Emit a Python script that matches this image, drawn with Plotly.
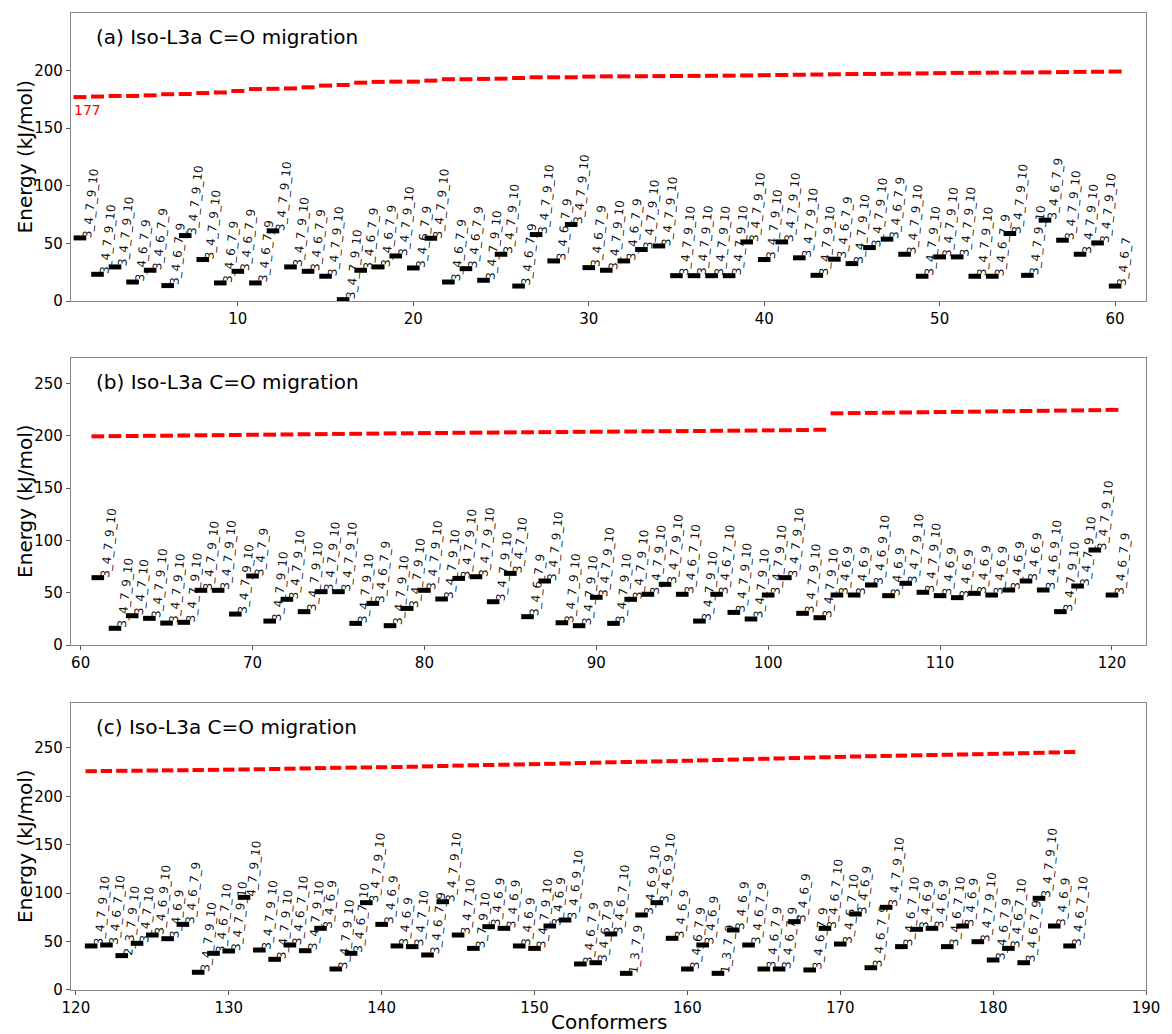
import math
import plotly.graph_objects as go

# ---------------- data ----------------
conf_a = list(range(1, 61))
energy_a = [54.8, 23.2, 29.6, 16.5, 26.7, 13.4, 56.8, 36.0, 15.7, 25.8,
            15.7, 60.9, 29.6, 25.8, 21.5, 1.2, 26.7, 29.6, 39.1, 28.7,
            54.5, 16.5, 28.1, 18.0, 40.6, 13.0, 57.7, 34.8, 66.4, 29.0,
            26.7, 34.8, 44.7, 47.8, 22.0, 22.0, 22.0, 22.0, 51.3, 36.0,
            51.3, 37.5, 22.3, 36.3, 32.5, 46.4, 53.7, 40.6, 21.5, 38.3,
            38.3, 21.5, 21.5, 58.6, 22.3, 70.2, 52.8, 40.6, 50.4, 13.0]
labels_a = ["3_4_7_9_10", "3_4_7_9_10", "3_4_7_9_10", "3_4_6_7_9", "3_4_6_7_9",
            "3_4_6_7_9", "3_4_7_9_10", "3_4_7_9_10", "3_4_6_7_9", "3_4_6_7_9",
            "3_4_6_7_9", "3_4_7_9_10", "3_4_7_9_10", "3_4_6_7_9", "3_4_7_9_10",
            "3_4_7_9_10", "3_4_6_7_9", "3_4_6_7_9", "3_4_7_9_10", "3_4_6_7_9",
            "3_4_7_9_10", "3_4_6_7_9", "3_4_6_7_9", "3_4_7_9_10", "3_4_7_9_10",
            "3_4_6_7_9", "3_4_7_9_10", "3_4_6_7_9", "3_4_7_9_10", "3_4_6_7_9",
            "3_4_7_9_10", "3_4_6_7_9", "3_4_7_9_10", "3_4_7_9_10", "3_4_7_9_10",
            "3_4_7_9_10", "3_4_7_9_10", "3_4_7_9_10", "3_4_7_9_10", "3_4_7_9_10",
            "3_4_7_9_10", "3_4_7_9_10", "3_4_7_9_10", "3_4_6_7_9", "3_4_7_9_10",
            "3_4_7_9_10", "3_4_6_7_9", "3_4_7_9_10", "3_4_7_9_10", "3_4_7_9_10",
            "3_4_7_9_10", "3_4_7_9_10", "3_4_6_7_9", "3_4_7_9_10", "3_4_7_9_10",
            "3_4_6_7_9", "3_4_7_9_10", "3_4_7_9_10", "3_4_7_9_10", "3_4_6_7"]
ts_a = [177.0, 177.5, 178.0, 178.0, 178.5, 179.5, 179.7, 180.5, 181.0, 182.3,
        184.0, 184.2, 184.5, 185.5, 187.0, 187.5, 189.5, 190.2, 190.4, 190.4,
        191.3, 192.5, 192.5, 192.8, 193.0, 193.6, 194.2, 194.2, 194.2, 194.8,
        195.0, 195.0, 195.1, 195.2, 195.3, 195.4, 195.5, 195.6, 195.8, 196.0,
        196.2, 196.4, 196.6, 196.8, 197.0, 197.1, 197.2, 197.4, 197.6, 197.8,
        198.0, 198.1, 198.2, 198.3, 198.4, 198.5, 198.7, 198.9, 199.0, 199.2]

conf_b = list(range(61, 121))
energy_b = [64.4, 16.0, 28.0, 25.5, 21.0, 21.7, 52.3, 52.3, 29.6, 66.0,
            22.9, 43.7, 31.9, 51.0, 51.0, 20.7, 39.8, 18.5, 35.0, 52.3,
            44.0, 63.7, 65.3, 41.4, 68.5, 27.1, 61.2, 21.3, 18.5, 45.6,
            20.7, 43.7, 48.5, 58.0, 48.5, 22.9, 48.5, 31.2, 24.9, 47.8,
            64.4, 30.3, 26.1, 47.8, 47.8, 57.4, 47.2, 59.0, 50.4, 47.2,
            45.3, 49.4, 47.8, 52.6, 61.2, 52.6, 31.9, 56.4, 90.8, 47.8]
labels_b = ["3_4_7_9_10", "3_4_7_9_10", "3_4_7_10", "3_4_7_9_10", "3_4_7_9_10",
            "3_4_7_9_10", "3_4_7_9_10", "3_4_7_9_10", "3_4_7_9_10", "3_4_7_9",
            "3_4_7_9_10", "3_4_7_9_10", "3_4_7_9_10", "3_4_7_9_10", "3_4_7_9_10",
            "3_4_7_9_10", "3_4_6_7_9", "3_4_7_9_10", "3_4_7_9_10", "3_4_7_9_10",
            "3_4_7_9_10", "3_4_7_9_10", "3_4_7_9_10", "3_4_7_9_10", "3_4_7_10",
            "3_4_6_7_9", "3_4_7_9_10", "3_4_7_9_10", "3_4_7_9_10", "3_4_7_9_10",
            "3_4_7_9_10", "3_4_7_9_10", "3_4_7_9_10", "3_4_7_9_10", "3_4_6_7_10",
            "3_4_7_9_10", "3_4_6_7_10", "3_4_7_9_10", "3_4_7_9_10", "3_4_7_9_10",
            "3_4_7_9_10", "3_4_7_9_10", "3_4_7_9_10", "3_4_6_9", "3_4_6_9",
            "3_4_6_9_10", "3_4_6_9", "3_4_7_9_10", "3_4_7_9_10", "3_4_6_9",
            "3_4_6_9", "3_4_6_9", "3_4_6_9", "3_4_6_9", "3_4_6_9",
            "3_4_6_9_10", "3_4_7_9_10", "3_4_7_9_10", "3_4_7_9_10", "3_4_6_7_9"]
ts_b = [199.5, 199.7, 199.8, 200.0, 200.1, 200.3, 200.5, 200.6, 200.8, 201.0,
        201.1, 201.3, 201.5, 201.6, 201.8, 201.9, 202.1, 202.3, 202.4, 202.6,
        202.7, 202.9, 203.0, 203.1, 203.3, 203.4, 203.5, 203.6, 203.8, 203.9,
        204.0, 204.1, 204.3, 204.4, 204.5, 204.6, 204.8, 204.9, 205.0, 205.2,
        205.3, 205.5, 205.8,
        221.5, 221.7, 221.9, 222.1, 222.3, 222.5, 222.7, 222.9, 223.1, 223.3,
        223.5, 223.7, 223.9, 224.1, 224.3, 224.5, 224.8]

conf_c = list(range(121, 186))
energy_c = [45.5, 46.5, 35.5, 48.2, 56.8, 53.0, 67.8, 18.3, 37.9, 40.3,
            95.7, 41.3, 31.7, 46.5, 40.6, 63.7, 21.7, 37.9, 90.2, 67.8,
            45.5, 44.8, 36.2, 91.2, 56.8, 43.0, 65.4, 63.7, 45.5, 43.0,
            66.1, 72.3, 26.9, 28.2, 57.9, 17.2, 77.5, 90.2, 53.4, 21.7,
            46.5, 17.2, 62.0, 46.5, 21.7, 21.7, 70.6, 20.7, 63.7, 47.5,
            78.5, 23.0, 85.4, 44.8, 62.7, 63.7, 44.8, 66.1, 49.9, 31.0,
            43.0, 28.2, 94.7, 66.1, 45.5]
labels_c = ["3_4_7_9_10", "3_4_6_7_10", "2_3_7_9_10", "3_4_7_10", "3_4_6_9_10",
            "3_4_6_9", "3_4_6_7_9", "3_4_7_9_10", "3_4_6_7_10", "3_4_7_9_10",
            "4_7_9_10", "3_4_7_9_10", "3_4_7_9_10", "3_4_6_7_10", "3_4_7_9_10",
            "3_4_6_9", "3_4_7_9_10", "3_4_6_7_10", "3_4_7_9_10", "3_4_6_9",
            "3_4_6_9", "3_4_7_10", "3_4_6_7_9", "3_4_7_9_10", "3_4_7_10",
            "3_7_9_10", "3_4_6_9", "3_4_6_9", "3_4_6_9", "3_4_7_9_10",
            "3_4_6_9", "3_4_6_9_10", "3_4_6_7_9", "3_4_6_7_9", "3_4_6_7_10",
            "1_3_7_9", "3_4_6_9_10", "3_4_6_9_10", "3_4_6_9", "3_4_6_7_9",
            "3_4_6_9", "1_3_7_9", "3_4_6_9", "3_4_6_7_9", "3_4_6_7_9",
            "3_4_6_7_9", "3_4_6_9", "3_4_6_7_9", "3_4_6_7_10", "3_4_6_7_10",
            "3_4_6_9", "3_4_6_7_9", "3_4_7_9_10", "3_4_6_7_10", "3_4_6_9",
            "3_4_6_9", "3_4_6_7_10", "3_4_6_9", "3_4_7_9_10", "3_4_6_7_9",
            "3_4_6_7_10", "3_4_6_7_9", "3_4_7_9_10", "3_4_6_9", "3_4_6_7_10"]
ts_c = [226.0, 226.2, 226.4, 226.5, 226.7, 226.9, 227.0, 227.2, 227.4, 227.6,
        227.8, 228.0, 228.3, 228.6, 228.9, 229.2, 229.5, 229.7, 229.9, 230.1,
        230.3, 230.6, 231.0, 231.4, 231.8, 232.1, 232.4, 232.7, 233.0, 233.3,
        233.6, 234.0, 234.4, 234.8, 235.2, 235.5, 235.8, 236.1, 236.4, 236.8,
        237.2, 237.6, 238.0, 238.4, 238.8, 239.2, 239.6, 240.0, 240.4, 240.8,
        241.2, 241.5, 241.8, 242.1, 242.4, 242.7, 243.0, 243.3, 243.6, 243.9,
        244.2, 244.6, 245.0, 245.4, 245.8]

panel_titles = ["(a) Iso-L3a C=O migration", "(b) Iso-L3a C=O migration",
                "(c) Iso-L3a C=O migration"]
ts_start_label = "177"
x_ranges = [[0.49, 61.76], [59.44, 121.98], [119.68, 190.0]]
y_ranges = [[0, 250], [0, 274.4], [0, 296.5]]
x_ticks = [[10, 20, 30, 40, 50, 60], [60, 70, 80, 90, 100, 110, 120],
           [120, 130, 140, 150, 160, 170, 180, 190]]
y_ticks = [[0, 50, 100, 150, 200], [0, 50, 100, 150, 200, 250],
           [0, 50, 100, 150, 200, 250]]

# ---------------- styling helpers ----------------
FONT = "DejaVu Sans"
LABEL_SIZE = 12
LABEL_ANGLE = 84  # degrees, counter-clockwise reading upward
COS_A = math.cos(math.radians(LABEL_ANGLE))
SIN_A = math.sin(math.radians(LABEL_ANGLE))


def text_width(s, size=LABEL_SIZE):
    w = 0.0
    for ch in s:
        w += 0.5 if ch == "_" else 0.636
    return w * size


def label_shift(s):
    """Offset (px) of the rotated label centre from its baseline start."""
    w = text_width(s)
    hc = 0.346 * LABEL_SIZE  # box centre above baseline
    dx = COS_A * w / 2 - SIN_A * hc
    dy = SIN_A * w / 2 + COS_A * hc
    # baseline start sits just right of the bar, level with its centre
    return 11 + dx, 0 + dy


fig = go.Figure()

panels = [(conf_a, energy_a, labels_a, ts_a),
          (conf_b, energy_b, labels_b, ts_b),
          (conf_c, energy_c, labels_c, ts_c)]
domains = [[0.7052, 1.0], [0.3531, 0.6469], [0.0, 0.2938]]

annotations = []
for k, (cx, ey, lab, ts) in enumerate(panels):
    xa = "x" if k == 0 else f"x{k+1}"
    ya = "y" if k == 0 else f"y{k+1}"
    # transition-state energies: one short flat dash per conformer
    sx, sy = [], []
    for c, v in zip(cx, ts):
        sx += [c - 0.37, c + 0.37, None]
        sy += [v, v, None]
    fig.add_trace(go.Scatter(x=sx, y=sy, mode="lines", xaxis=xa, yaxis=ya,
                             line=dict(color="#ff0000", width=4),
                             hoverinfo="skip", showlegend=False))
    # conformer energies
    fig.add_trace(go.Scatter(x=cx, y=ey, mode="markers", xaxis=xa, yaxis=ya,
                             marker=dict(symbol="line-ew", size=9,
                                         line=dict(color="black", width=5)),
                             showlegend=False))
    for c, e, t in zip(cx, ey, lab):
        xs, ys = label_shift(t)
        annotations.append(dict(x=c, y=e, xref=xa, yref=ya, text=t,
                                showarrow=False, textangle=-LABEL_ANGLE,
                                xanchor="center", yanchor="middle",
                                xshift=xs, yshift=ys, borderpad=0,
                                font=dict(family=FONT, size=LABEL_SIZE,
                                          color="rgba(10,10,10,0.97)")))
    annotations.append(dict(x=0.021, y=1.0, xref=f"{xa} domain", yref=f"{ya} domain",
                            text=panel_titles[k], showarrow=False,
                            xanchor="left", yanchor="top", yshift=-10,
                            font=dict(family=FONT, size=20, color="black")))
    annotations.append(dict(x=-0.0424, y=0.5, xref="paper", yref=f"{ya} domain",
                            text="Energy (kJ/mol)", showarrow=False, textangle=-90,
                            xanchor="center", yanchor="middle",
                            font=dict(family=FONT, size=20, color="black")))

annotations.append(dict(x=conf_a[0] - 0.45, y=ts_a[0], xref="x", yref="y",
                        text=ts_start_label, showarrow=False,
                        xanchor="left", yanchor="top", yshift=-3,
                        font=dict(family=FONT, size=14, color="#ff0000")))
annotations.append(dict(x=0.5, y=-0.0328, xref="paper", yref="paper",
                        text="Conformers", showarrow=False,
                        xanchor="center", yanchor="middle",
                        font=dict(family=FONT, size=20, color="black")))

axis_common = dict(showline=True, linecolor="#888888", linewidth=1.2, mirror=True,
                   showgrid=False, zeroline=False, ticks="outside", ticklen=4,
                   tickcolor="#555555", tickfont=dict(family=FONT, size=15, color="black"))

layout = dict(width=1172, height=1034, margin=dict(l=71, r=16, t=13, b=44),
              paper_bgcolor="white", plot_bgcolor="white",
              annotations=annotations, showlegend=False)
for k in range(3):
    xn = "xaxis" if k == 0 else f"xaxis{k+1}"
    yn = "yaxis" if k == 0 else f"yaxis{k+1}"
    ya = "y" if k == 0 else f"y{k+1}"
    xa = "x" if k == 0 else f"x{k+1}"
    layout[xn] = dict(axis_common, range=x_ranges[k], tickvals=x_ticks[k],
                      anchor=ya, domain=[0, 1])
    layout[yn] = dict(axis_common, range=y_ranges[k], tickvals=y_ticks[k],
                      anchor=xa, domain=domains[k])
fig.update_layout(**layout)

fig.write_html("out.html")
